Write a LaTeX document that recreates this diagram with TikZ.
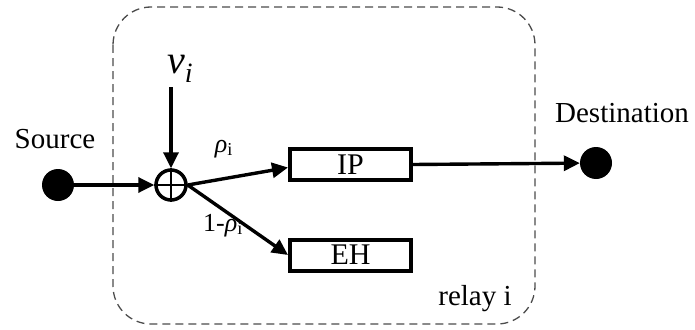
\documentclass[tikz,border=0pt]{standalone}
\usepackage{fontspec}
\setmainfont{Liberation Serif}
\usetikzlibrary{arrows.meta}
\begin{document}
\begin{tikzpicture}[x=1pt,y=-1pt,
  link/.style={line width=3.4pt,-{Triangle[length=16pt,width=15pt]}},
  block/.style={draw,line width=4pt,minimum width=121pt,minimum height=31pt,
    inner sep=0pt,font=\fontsize{30}{31}\selectfont},
  terminal/.style={circle,fill,minimum size=32pt,inner sep=0pt},
  adder/.style={circle,draw,line width=3.5pt,minimum size=30pt,inner sep=0pt},
  lbl/.style={font=\fontsize{29}{30}\selectfont,inner sep=0pt},
  coef/.style={font=\fontsize{26}{27}\selectfont,inner sep=0pt},
]
\useasboundingbox (0,0) rectangle (695,329);

% relay boundary
\draw[black!70, line width=1.3pt, dash pattern=on 8pt off 5pt,
  rounded corners=38pt] (113,7) rectangle (535,324);

% nodes
\node[terminal] (src) at (58,185) {};
\node[terminal] (dst) at (596,163) {};
\node[adder] (sum) at (171,185) {};
\draw[line width=2.8pt] (sum.north) -- (sum.south) (sum.west) -- (sum.east);
\node[block] (ip) at (350.5,164.5) {IP};
\node[block] (eh) at (350.5,255) {EH};
\coordinate (noise) at (171,87);

% labels
\node[lbl, anchor=base] at (55,148) {Source};
\node[lbl, anchor=base] at (622,122) {Destination};
\node[lbl, anchor=base] at (475,305) {relay i};
\node[font=\fontsize{40}{42}\selectfont, inner sep=0pt, anchor=base west] at (167,73)
  {\textit{v}\textsubscript{\textit{i}}};
\node[coef, anchor=base] at (224,152) {\textit{ρ}\textsubscript{i}};
\node[coef, anchor=base] at (223,231) {1-\textit{ρ}\textsubscript{i}};

% connectors
\draw[link] (noise) -- (sum.north);
\draw[link] (src) -- (sum.west);
\draw[link] (sum.east) -- ([yshift=-3pt]ip.west);
\draw[link] (sum.east) -- (eh.west);
\draw[link] (ip.east) -- (dst);
\end{tikzpicture}
\end{document}
